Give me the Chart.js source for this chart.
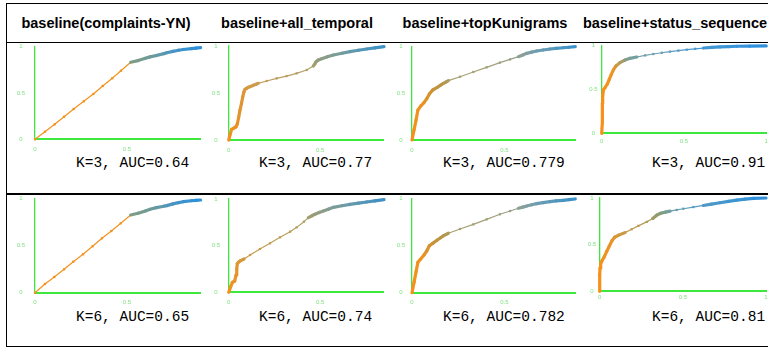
<!DOCTYPE html>
<html><head><meta charset="utf-8">
<script src="https://cdn.jsdelivr.net/npm/chart.js@4.4.0/dist/chart.umd.min.js"></script>
<style>
html,body{margin:0;padding:0;background:#fff;}
#wrap{position:relative;width:768px;height:349px;overflow:hidden;background:#fff;}
.rule{position:absolute;background:#000;}
.hdr{position:absolute;font:bold 14.5px "Liberation Sans",Arial,sans-serif;line-height:14.5px;color:#000;text-align:center;white-space:nowrap;}
.auc{position:absolute;font:14.5px "Liberation Mono","Courier New",monospace;line-height:14.5px;color:#000;white-space:pre;}
canvas{position:absolute;}
</style></head><body><div id="wrap"></div>
<script>
// ---------------- DATA ----------------
const columnTitles = ['baseline(complaints-YN)', 'baseline+all_temporal', 'baseline+topKunigrams', 'baseline+status_sequence'];
const rowK = [3, 6];
const aucK3 = ['0.64', '0.77', '0.779', '0.91'];
const aucK6 = ['0.65', '0.74', '0.782', '0.81'];
const axisTickValues = [0, 0.5, 1];

const k3_complaints_fpr = [0, 0.054, 0.107, 0.158, 0.210, 0.265, 0.317, 0.368, 0.420, 0.467, 0.520, 0.56, 0.60, 0.625, 0.66, 0.70, 0.716, 0.75, 0.78, 0.806, 0.85, 0.875, 0.90];
const k3_complaints_tpr = [0, 0.082, 0.162, 0.244, 0.327, 0.410, 0.489, 0.576, 0.659, 0.741, 0.832, 0.85, 0.875, 0.89, 0.905, 0.925, 0.935, 0.95, 0.962, 0.97, 0.98, 0.985, 0.99];

const k3_temporal_fpr = [0, 0.008, 0.016, 0.03, 0.04, 0.047, 0.055, 0.062, 0.07, 0.077, 0.083, 0.089, 0.098, 0.107, 0.12, 0.135, 0.15, 0.162, 0.208, 0.263, 0.317, 0.372, 0.427, 0.463, 0.472, 0.478, 0.49, 0.509, 0.54, 0.573, 0.62, 0.664, 0.71, 0.755, 0.80, 0.85];
const k3_temporal_tpr = [0, 0.06, 0.114, 0.13, 0.141, 0.17, 0.245, 0.319, 0.39, 0.46, 0.51, 0.539, 0.55, 0.56, 0.57, 0.582, 0.593, 0.603, 0.628, 0.656, 0.68, 0.709, 0.745, 0.787, 0.81, 0.833, 0.85, 0.865, 0.885, 0.904, 0.923, 0.94, 0.955, 0.968, 0.98, 0.993];

const k3_unigrams_fpr = [0, 0.011, 0.022, 0.032, 0.047, 0.065, 0.08, 0.094, 0.112, 0.137, 0.155, 0.17, 0.185, 0.197, 0.26, 0.332, 0.404, 0.476, 0.531, 0.576, 0.60, 0.621, 0.648, 0.675, 0.71, 0.747, 0.78, 0.819, 0.85, 0.884];
const k3_unigrams_tpr = [0, 0.107, 0.214, 0.321, 0.364, 0.40, 0.443, 0.493, 0.536, 0.564, 0.588, 0.607, 0.622, 0.636, 0.678, 0.729, 0.779, 0.829, 0.864, 0.893, 0.912, 0.929, 0.942, 0.954, 0.965, 0.975, 0.982, 0.989, 0.994, 1.0];

const k3_status_fpr = [0, 0.003, 0.004, 0.004, 0.006, 0.01, 0.022, 0.034, 0.046, 0.058, 0.071, 0.087, 0.111, 0.142, 0.172, 0.213, 0.264, 0.314, 0.365, 0.415, 0.466, 0.517, 0.568, 0.618, 0.67, 0.719, 0.77, 0.821, 0.9, 1.0];
const k3_status_tpr = [0, 0.10, 0.265, 0.34, 0.416, 0.492, 0.523, 0.56, 0.614, 0.667, 0.72, 0.765, 0.803, 0.833, 0.852, 0.867, 0.885, 0.901, 0.915, 0.928, 0.94, 0.95, 0.96, 0.969, 0.976, 0.981, 0.986, 0.989, 0.991, 0.993];

const k6_complaints_fpr = [0, 0.054, 0.105, 0.158, 0.208, 0.261, 0.313, 0.364, 0.415, 0.466, 0.520, 0.56, 0.60, 0.625, 0.66, 0.70, 0.716, 0.75, 0.78, 0.806, 0.85, 0.875, 0.90];
const k6_complaints_tpr = [0, 0.093, 0.167, 0.249, 0.330, 0.409, 0.494, 0.579, 0.656, 0.738, 0.827, 0.845, 0.87, 0.887, 0.905, 0.92, 0.926, 0.945, 0.958, 0.968, 0.978, 0.983, 0.986];

const k6_temporal_fpr = [0, 0.011, 0.02, 0.033, 0.04, 0.044, 0.047, 0.055, 0.062, 0.084, 0.117, 0.171, 0.226, 0.281, 0.336, 0.372, 0.412, 0.436, 0.455, 0.472, 0.495, 0.518, 0.545, 0.573, 0.62, 0.664, 0.71, 0.755, 0.80, 0.85];
const k6_temporal_tpr = [0, 0.06, 0.107, 0.121, 0.185, 0.25, 0.307, 0.325, 0.335, 0.357, 0.40, 0.464, 0.525, 0.589, 0.65, 0.696, 0.757, 0.80, 0.82, 0.836, 0.855, 0.871, 0.89, 0.911, 0.928, 0.943, 0.956, 0.968, 0.98, 0.993];

const k6_unigrams_fpr = [0, 0.011, 0.022, 0.032, 0.047, 0.065, 0.08, 0.094, 0.112, 0.137, 0.155, 0.17, 0.185, 0.197, 0.26, 0.332, 0.404, 0.476, 0.531, 0.576, 0.60, 0.621, 0.648, 0.675, 0.71, 0.747, 0.78, 0.819, 0.85, 0.884];
const k6_unigrams_tpr = [0, 0.11, 0.223, 0.323, 0.359, 0.401, 0.444, 0.50, 0.525, 0.561, 0.585, 0.606, 0.62, 0.632, 0.678, 0.727, 0.78, 0.834, 0.869, 0.898, 0.91, 0.922, 0.935, 0.947, 0.958, 0.968, 0.976, 0.983, 0.99, 0.997];

const k6_status_fpr = [0, 0, 0, 0.002, 0.006, 0.014, 0.026, 0.042, 0.058, 0.074, 0.09, 0.112, 0.152, 0.192, 0.232, 0.283, 0.319, 0.343, 0.367, 0.395, 0.423, 0.463, 0.503, 0.563, 0.623, 0.673, 0.723, 0.774, 0.824, 0.874, 0.924, 1.0];
const k6_status_tpr = [0, 0.068, 0.176, 0.248, 0.298, 0.327, 0.363, 0.427, 0.485, 0.543, 0.579, 0.60, 0.629, 0.665, 0.701, 0.744, 0.78, 0.816, 0.837, 0.849, 0.859, 0.872, 0.885, 0.903, 0.92, 0.935, 0.949, 0.963, 0.977, 0.988, 0.995, 1.0];

// -------------- STYLE / LAYOUT --------------
const stopsComplaints = [[0,'#f5911c'],[0.515,'#f0931f'],[0.53,'#7e9c86'],[0.65,'#6b9a9c'],[0.75,'#4b95c2'],[0.9,'#2a8fdc']];
const stopsTemporal3 = [[0,'#f7901a'],[0.06,'#e3922c'],[0.12,'#d29a45'],[0.2,'#c09e5c'],[0.45,'#b0a068'],[0.5,'#8e9c80'],[0.6,'#7a9c98'],[0.72,'#5797b4'],[0.85,'#3b90c8']];
const stopsTemporal6 = [[0,'#f7901a'],[0.05,'#e0962e'],[0.1,'#c99c48'],[0.4,'#b4a064'],[0.46,'#9c9c72'],[0.55,'#849e92'],[0.7,'#5f98b0'],[0.85,'#3c8fc6']];
const stopsUnigrams = [[0,'#f7901a'],[0.06,'#ec9220'],[0.12,'#c89238'],[0.18,'#b29850'],[0.22,'#a8a070'],[0.5,'#a0a080'],[0.6,'#8aa098'],[0.7,'#6a9cb4'],[0.88,'#3a92c8']];
const stopsStatus3 = [[0,'#f7901a'],[0.07,'#ef9422'],[0.11,'#c09a50'],[0.15,'#8c9c80'],[0.2,'#72a0a4'],[0.35,'#6a9fb4'],[0.55,'#4a9ad0'],[1.0,'#2a90e0']];
const stopsStatus6 = [[0,'#f7901a'],[0.08,'#e69428'],[0.14,'#c89a48'],[0.3,'#b09c5c'],[0.36,'#8c9a70'],[0.42,'#70a0a0'],[0.55,'#5a9cc0'],[1.0,'#2a8fdc']];

const panels = [
  {fpr: k3_complaints_fpr, tpr: k3_complaints_tpr, stops: stopsComplaints, sparse: [[0,0.515]], g:{ox:35, oy:139.3, sx:184, sy:92.6, xMax:0.9, yPad:10, xPad:6.5}},
  {fpr: k3_temporal_fpr, tpr: k3_temporal_tpr, stops: stopsTemporal3, sparse: [[0.165,0.465]], g:{ox:228.7, oy:140, sx:182.7, sy:94, xMax:0.85, yPad:8.5, xPad:6.5}},
  {fpr: k3_unigrams_fpr, tpr: k3_unigrams_tpr, stops: stopsUnigrams, sparse: [[0.2,0.575]], g:{ox:412, oy:140, sx:184.7, sy:93.3, xMax:0.886, yPad:7, xPad:6.5}},
  {fpr: k3_status_fpr, tpr: k3_status_tpr, stops: stopsStatus3, sparse: [[0.2,0.6]], g:{ox:601.7, oy:133.3, sx:164.5, sy:88, xMax:1.0, yPad:4, xPad:4.4}},
  {fpr: k6_complaints_fpr, tpr: k6_complaints_tpr, stops: stopsComplaints, sparse: [[0,0.515]], g:{ox:35, oy:292.7, sx:184, sy:94, xMax:0.9, yPad:10, xPad:6}},
  {fpr: k6_temporal_fpr, tpr: k6_temporal_tpr, stops: stopsTemporal6, sparse: [[0.09,0.43]], g:{ox:228.7, oy:292.3, sx:182.7, sy:93.3, xMax:0.85, yPad:8.5, xPad:6}},
  {fpr: k6_unigrams_fpr, tpr: k6_unigrams_tpr, stops: stopsUnigrams, sparse: [[0.2,0.575]], g:{ox:412, oy:292.7, sx:184.7, sy:94, xMax:0.886, yPad:7, xPad:6}},
  {fpr: k6_status_fpr, tpr: k6_status_tpr, stops: stopsStatus6, sparse: [[0.15,0.33],[0.42,0.6]], g:{ox:599.7, oy:291.3, sx:166.3, sy:93.3, xMax:1.0, yPad:3.5, xPad:2.4}}
];

const AXIS_GREEN = '#3de83d';
const TICK_GREEN = '#7fe27f';

// -------------- helpers --------------
function hexToRgb(h){ return [parseInt(h.slice(1,3),16), parseInt(h.slice(3,5),16), parseInt(h.slice(5,7),16)]; }
function colorAt(stops, x){
  if (x <= stops[0][0]) return stops[0][1];
  for (let i = 1; i < stops.length; i++) {
    if (x <= stops[i][0]) {
      const a = hexToRgb(stops[i-1][1]), b = hexToRgb(stops[i][1]);
      const t = (x - stops[i-1][0]) / (stops[i][0] - stops[i-1][0]);
      return 'rgb(' + a.map((v,k)=>Math.round(v + (b[k]-v)*t)).join(',') + ')';
    }
  }
  return stops[stops.length-1][1];
}
function inRanges(ranges, x){ return ranges.some(r => x >= r[0] && x <= r[1]); }

const wrap = document.getElementById('wrap');
function rule(l,t,w,h){ const d=document.createElement('div'); d.className='rule'; Object.assign(d.style,{left:l+'px',top:t+'px',width:w+'px',height:h+'px'}); wrap.appendChild(d); }
rule(5.5, 2.5, 763, 1.5);
rule(5.5, 41.5, 763, 1.5);
rule(5.5, 193, 763, 1.5);
rule(5.5, 345.5, 763, 1.5);
rule(5.5, 2.5, 1.5, 344.5);

const headerCenters = [106, 297, 485, 675];
columnTitles.forEach((t,i)=>{
  const d=document.createElement('div'); d.className='hdr'; d.textContent=t;
  Object.assign(d.style,{left:(headerCenters[i]-100)+'px',top:'15.7px',width:'200px'});
  wrap.appendChild(d);
});

const aucLefts = [76, 259, 443, 652];
const aucTops = [155.6, 309.6];
[aucK3, aucK6].forEach((row, r)=>{
  row.forEach((v,i)=>{
    const d=document.createElement('div'); d.className='auc';
    d.textContent = 'K=' + rowK[r] + ', AUC=' + v;
    Object.assign(d.style,{left:aucLefts[i]+'px',top:aucTops[r]+'px'});
    wrap.appendChild(d);
  });
});

const LW = 28, PT = 18, PR = 14, BH = 22;
panels.forEach(p=>{
  const g = p.g;
  const yMax = 1.0;
  const topPx = g.oy - g.sy*yMax;
  const rightPx = g.ox + g.sx*g.xMax;
  const cl = Math.floor(g.ox) - LW;
  const ct = Math.floor(topPx) - PT;
  const W = Math.ceil(rightPx) + PR - cl;
  const H = Math.ceil(g.oy) + BH - ct;
  const padLeft = g.ox - cl - LW;
  const padTop = topPx - ct;
  const padRight = W - (rightPx - cl);
  const xH = H - (g.oy - ct);
  const cv = document.createElement('canvas');
  cv.width = W; cv.height = H;
  Object.assign(cv.style,{left:cl+'px',top:ct+'px',width:W+'px',height:H+'px'});
  wrap.appendChild(cv);
  const pts = p.fpr.map((x,i)=>({x, y:p.tpr[i]}));
  const xTicks = axisTickValues.filter(v => v <= g.xMax + 1e-9);
  new Chart(cv.getContext('2d'), {
    type: 'line',
    data: { datasets: [{
      data: pts,
      borderColor: '#f7901a',
      borderWidth: 3.2,
      borderCapStyle: 'round',
      borderJoinStyle: 'round',
      tension: 0,
      clip: false,
      pointStyle: 'rect',
      pointRadius: c => (c.parsed && inRanges(p.sparse, c.parsed.x)) ? 1.6 : 0,
      pointBorderWidth: 0,
      pointBackgroundColor: c => c.parsed ? colorAt(p.stops, c.parsed.x) : '#f7901a',
      segment: {
        borderColor: c => colorAt(p.stops, (c.p0.parsed.x + c.p1.parsed.x)/2),
        borderWidth: c => inRanges(p.sparse, (c.p0.parsed.x + c.p1.parsed.x)/2) ? 1.2 : 3.2
      }
    }]},
    options: {
      responsive: false, animation: false, devicePixelRatio: 1,
      layout: { padding: { left: padLeft, top: padTop, right: padRight, bottom: 0 } },
      plugins: { legend: {display:false}, tooltip: {enabled:false} },
      scales: {
        x: {
          type: 'linear', min: 0, max: g.xMax,
          afterFit: s => { s.height = xH; },
          afterBuildTicks: s => { s.ticks = xTicks.map(v => ({value: v})); },
          grid: { display: false, drawTicks: false, tickLength: 0 },
          border: { display: true, color: AXIS_GREEN, width: 2 },
          ticks: { padding: g.xPad, color: TICK_GREEN, font: {family: 'Liberation Sans', size: 6}, maxRotation: 0, autoSkip: false,
                   callback: v => String(v) }
        },
        y: {
          type: 'linear', min: 0, max: yMax,
          afterFit: s => { s.width = LW; },
          afterBuildTicks: s => { s.ticks = axisTickValues.map(v => ({value: v})); },
          grid: { display: false, drawTicks: false, tickLength: 0 },
          border: { display: true, color: AXIS_GREEN, width: 1.3 },
          ticks: { padding: g.yPad, crossAlign: 'center', color: TICK_GREEN, font: {family: 'Liberation Sans', size: 6},
                   callback: v => String(v) }
        }
      }
    }
  });
});
</script></body></html>
